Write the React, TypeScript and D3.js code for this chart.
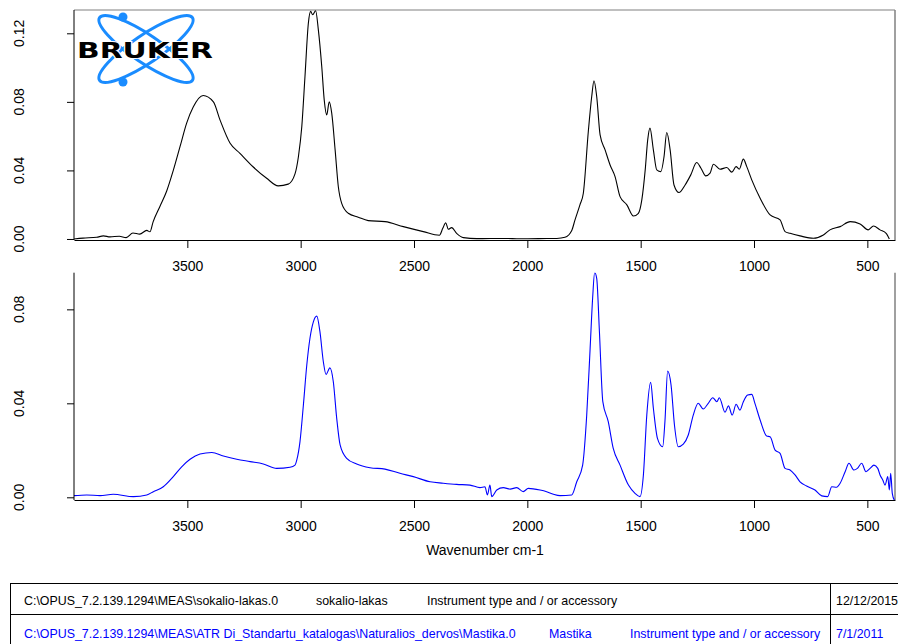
import { useEffect, useRef } from "react";
import * as d3 from "d3";

// [wavenumber, absorbance]
const sampleSpectrum: [number, number][] = [
  [4000, 0], [3960, 0.0005], [3900, 0.001], [3870, 0.0018], [3841, 0.0012], [3800, 0.0016],
  [3770, 0.0008], [3740, 0.0035], [3710, 0.0028], [3679, 0.005], [3665, 0.0042], [3651, 0.01],
  [3621, 0.019], [3591, 0.028], [3562, 0.04], [3532, 0.054], [3503, 0.0676], [3474, 0.077],
  [3430, 0.0837], [3385, 0.08], [3356, 0.0695], [3312, 0.056], [3268, 0.05], [3209, 0.042],
  [3150, 0.0354], [3099, 0.031], [3055, 0.032], [3025, 0.038], [3010, 0.048], [2995, 0.0656],
  [2981, 0.0948], [2966, 0.126], [2956, 0.1328], [2947, 0.1308], [2934, 0.1332], [2922, 0.122],
  [2907, 0.1006], [2896, 0.081], [2885, 0.0724], [2874, 0.08], [2863, 0.0734], [2848, 0.052],
  [2834, 0.0306], [2819, 0.0208], [2790, 0.015], [2746, 0.0127], [2702, 0.0107], [2628, 0.0101],
  [2547, 0.0072], [2459, 0.0043], [2388, 0.0022], [2373, 0.0062], [2360, 0.0095], [2349, 0.0057],
  [2334, 0.0066], [2312, 0.0033], [2282, 0.0008], [2223, 0.0002], [2100, 0.0003], [2032, 0.0001],
  [1950, 0.0002], [1870, 0.0003], [1834, 0.001], [1804, 0.005], [1790, 0.011], [1768, 0.0199],
  [1753, 0.0267], [1731, 0.0627], [1716, 0.0831], [1706, 0.0923], [1694, 0.0831], [1679, 0.0607],
  [1657, 0.052], [1635, 0.0432], [1613, 0.0364], [1591, 0.0247], [1561, 0.0199], [1532, 0.0134],
  [1510, 0.015], [1495, 0.0228], [1480, 0.0403], [1469, 0.0578], [1459, 0.0647], [1444, 0.052],
  [1429, 0.0403], [1411, 0.0393], [1397, 0.048], [1385, 0.0621], [1370, 0.052], [1353, 0.0315],
  [1331, 0.0271], [1304, 0.0315], [1279, 0.0374], [1253, 0.0446], [1234, 0.0413], [1213, 0.0368],
  [1194, 0.0384], [1179, 0.0436], [1150, 0.0407], [1120, 0.0417], [1098, 0.039], [1079, 0.0422],
  [1065, 0.0407], [1047, 0.0466], [1032, 0.0422], [1010, 0.0345], [973, 0.0238], [929, 0.014],
  [885, 0.0111], [863, 0.0043], [841, 0.0033], [797, 0.0018], [738, 0.0004], [694, 0.0023],
  [665, 0.0053], [620, 0.0072], [576, 0.0101], [532, 0.0088], [496, 0.0053], [473, 0.0076],
  [444, 0.0053], [417, 0.0033], [403, 0],
];

const referenceSpectrum: [number, number][] = [
  [4000, 0.0007], [3944, 0.001], [3885, 0.0007], [3827, 0.0013], [3738, 0.0003], [3679, 0.001],
  [3650, 0.0024], [3606, 0.0045], [3562, 0.0088], [3525, 0.013], [3488, 0.0162], [3444, 0.0184],
  [3392, 0.0191], [3341, 0.0176], [3282, 0.0162], [3223, 0.0152], [3165, 0.0142], [3106, 0.0123],
  [3047, 0.0128], [3025, 0.0137], [3017, 0.0159], [3003, 0.0237], [2988, 0.0393], [2973, 0.0563],
  [2959, 0.0677], [2944, 0.0747], [2929, 0.0771], [2915, 0.0705], [2900, 0.0577], [2888, 0.0523],
  [2871, 0.0551], [2856, 0.0492], [2841, 0.0336], [2826, 0.0223], [2797, 0.0166], [2753, 0.0142],
  [2694, 0.0126], [2628, 0.012], [2562, 0.0102], [2503, 0.0088], [2429, 0.0066], [2371, 0.006],
  [2312, 0.0055], [2253, 0.0052], [2209, 0.0041], [2187, 0.0045], [2176, 0.001], [2165, 0.0052],
  [2157, 0.0003], [2135, 0.0031], [2106, 0.0041], [2076, 0.0035], [2047, 0.0041], [2018, 0.0024],
  [1996, 0.0038], [1944, 0.0031], [1915, 0.0024], [1885, 0.0013], [1856, 0.0007], [1804, 0.001],
  [1782, 0.0066], [1756, 0.0137], [1738, 0.035], [1723, 0.0634], [1712, 0.0847], [1703, 0.0957],
  [1694, 0.0932], [1682, 0.0705], [1667, 0.0407], [1643, 0.0322], [1621, 0.0208], [1591, 0.0137],
  [1554, 0.0052], [1525, 0.0017], [1503, 0.0003], [1488, 0.0095], [1473, 0.035], [1456, 0.0489],
  [1444, 0.0379], [1426, 0.0251], [1403, 0.0215], [1393, 0.0322], [1381, 0.0537], [1366, 0.0478],
  [1351, 0.0308], [1334, 0.0215], [1312, 0.0226], [1290, 0.0265], [1268, 0.035], [1246, 0.04],
  [1224, 0.0376], [1202, 0.04], [1182, 0.0424], [1164, 0.0407], [1153, 0.0424], [1128, 0.0362],
  [1113, 0.0389], [1096, 0.035], [1079, 0.0396], [1062, 0.0371], [1047, 0.0407], [1028, 0.0435],
  [1010, 0.0438], [996, 0.04], [973, 0.0329], [944, 0.0261], [929, 0.0258], [907, 0.0201],
  [885, 0.0187], [863, 0.0123], [841, 0.0116], [819, 0.0095], [797, 0.0066], [768, 0.0048],
  [731, 0.0031], [701, 0.0006], [675, 0.0003], [657, 0.0045], [636, 0.0043], [620, 0.006],
  [598, 0.0109], [581, 0.0145], [559, 0.0116], [544, 0.0123], [525, 0.0145], [506, 0.0109],
  [488, 0.0123], [471, 0.0137], [454, 0.0123], [444, 0.0095], [432, 0.0074], [422, 0.0052],
  [410, 0.0088], [403, 0.0031], [397, 0.0102], [390, 0.0017], [381, -0.0012],
];

const wavenumberTicks = [3500, 3000, 2500, 2000, 1500, 1000, 500];
const topYTicks = [0, 0.04, 0.08, 0.12];
const bottomYTicks = [0, 0.04, 0.08];

const fileRows = [
  {
    path: "C:\\OPUS_7.2.139.1294\\MEAS\\sokalio-lakas.0",
    name: "sokalio-lakas",
    instrument: "Instrument type and / or accessory",
    date: "12/12/2015",
  },
  {
    path: "C:\\OPUS_7.2.139.1294\\MEAS\\ATR Di_Standartu_katalogas\\Naturalios_dervos\\Mastika.0",
    name: "Mastika",
    instrument: "Instrument type and / or accessory",
    date: "7/1/2011",
  },
];

const FONT = "'Liberation Sans', Arial, sans-serif";

const App = () => {
  const svgRef = useRef<SVGSVGElement>(null);

  useEffect(() => {
    const svg = d3.select(svgRef.current);
    svg.selectAll("*").remove();

    const left = 74;
    const right = 895;

    const x = d3.scaleLinear().domain([4000, 378]).range([left, right]);

    const panels = [
      { data: sampleSpectrum, color: "#000000", top: 10, bottom: 240, yDomain: [-0.0006, 0.1336], ticks: topYTicks, frameTop: true },
      { data: referenceSpectrum, color: "#0000ff", top: 272.7, bottom: 500, yDomain: [-0.00115, 0.0956], ticks: bottomYTicks, frameTop: false },
    ];

    panels.forEach((p, i) => {
      const y = d3.scaleLinear().domain(p.yDomain).range([p.bottom, p.top]);
      const g = svg.append("g");

      g.append("clipPath")
        .attr("id", `clip${i}`)
        .append("rect")
        .attr("x", left)
        .attr("y", p.top)
        .attr("width", right - left)
        .attr("height", p.bottom - p.top + 2);

      // gray frame
      if (p.frameTop) {
        g.append("line").attr("x1", left).attr("x2", right).attr("y1", p.top).attr("y2", p.top)
          .attr("stroke", "#808080").attr("stroke-width", 1.2);
      }
      g.append("line").attr("x1", right).attr("x2", right).attr("y1", p.top).attr("y2", p.bottom)
        .attr("stroke", "#808080").attr("stroke-width", 1.5);

      const line = d3
        .line<[number, number]>()
        .x((d) => x(d[0]))
        .y((d) => y(d[1]))
        .curve(d3.curveMonotoneX);

      g.append("path")
        .datum(p.data)
        .attr("clip-path", `url(#clip${i})`)
        .attr("fill", "none")
        .attr("stroke", p.color)
        .attr("stroke-width", 1.1)
        .attr("d", line);

      const xAxis = g
        .append("g")
        .attr("transform", `translate(0,${p.bottom})`)
        .call(d3.axisBottom(x).tickValues(wavenumberTicks).tickSize(8).tickSizeOuter(0).tickPadding(13).tickFormat(d3.format("d")));
      xAxis.selectAll("text").attr("font-size", 14).attr("font-family", FONT).attr("fill", "#000");

      const yAxis = g
        .append("g")
        .attr("transform", `translate(${left},0)`)
        .call(d3.axisLeft(y).tickValues(p.ticks).tickSize(7).tickSizeOuter(0).tickFormat(() => ""));
      yAxis.select(".domain").attr("d", `M0,${p.bottom}V${p.top}`);

      p.ticks.forEach((t) => {
        const ty = y(t);
        g.append("text")
          .attr("x", 24)
          .attr("y", ty)
          .attr("transform", `rotate(-90,24,${ty})`)
          .attr("text-anchor", "middle")
          .attr("font-size", 14)
          .attr("font-family", FONT)
          .text(d3.format(".2f")(t));
      });
    });

    svg.append("text")
      .attr("x", 485)
      .attr("y", 555)
      .attr("text-anchor", "middle")
      .attr("font-size", 14)
      .attr("font-family", FONT)
      .text("Wavenumber cm-1");

    // Bruker logo
    const logo = svg.append("g");
    [34, -34].forEach((angle) => {
      logo.append("ellipse")
        .attr("cx", 146)
        .attr("cy", 49)
        .attr("rx", 56)
        .attr("ry", 14)
        .attr("transform", `rotate(${angle},146,49)`)
        .attr("fill", "none")
        .attr("stroke", "#1a8cff")
        .attr("stroke-width", 3);
    });
    [17, 82].forEach((cy) => {
      logo.append("circle").attr("cx", 123).attr("cy", cy).attr("r", 4.5).attr("fill", "#1a8cff");
    });
    logo.append("text")
      .attr("x", 77)
      .attr("y", 58)
      .attr("textLength", 136)
      .attr("lengthAdjust", "spacingAndGlyphs")
      .attr("font-size", 22)
      .attr("font-weight", "bold")
      .attr("font-family", "'DejaVu Sans', sans-serif")
      .attr("stroke", "#fff")
      .attr("stroke-width", 2)
      .attr("paint-order", "stroke")
      .text("BRUKER");

    // file table
    const table = svg.append("g").attr("font-family", FONT).attr("font-size", 12.4);
    table.append("rect").attr("x", 10.5).attr("y", 583.5).attr("width", 900).attr("height", 80)
      .attr("fill", "none").attr("stroke", "#000");
    table.append("line").attr("x1", 10.5).attr("x2", 898).attr("y1", 614.5).attr("y2", 614.5).attr("stroke", "#000");
    table.append("line").attr("x1", 830.5).attr("x2", 830.5).attr("y1", 583.5).attr("y2", 644).attr("stroke", "#000");

    const cols = [
      { key: "path", xs: [24, 24] },
      { key: "name", xs: [316, 549] },
      { key: "instrument", xs: [427, 630] },
      { key: "date", xs: [836, 836] },
    ];
    fileRows.forEach((row: any, r) => {
      cols.forEach((c) => {
        table.append("text")
          .attr("x", c.xs[r])
          .attr("y", r === 0 ? 604.5 : 637.5)
          .attr("fill", r === 0 ? "#000" : "#0000ff")
          .text(row[c.key]);
      });
    });
  }, []);

  return (
    <svg
      ref={svgRef}
      width={898}
      height={644}
      style={{ position: "absolute", left: 0, top: 0, background: "#fff" }}
    />
  );
};

export default App;
